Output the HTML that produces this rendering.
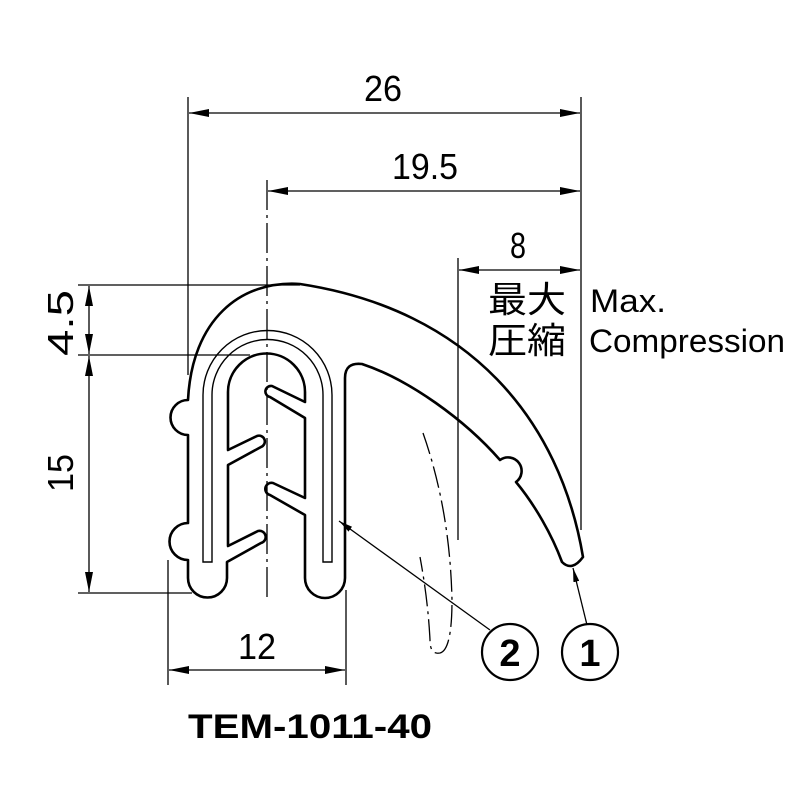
<!DOCTYPE html>
<html><head><meta charset="utf-8"><style>
html,body{margin:0;padding:0;background:#fff}
svg{display:block}
text{font-family:"Liberation Sans","Noto Sans CJK JP",sans-serif;fill:#000}
</style></head><body>
<svg width="800" height="800" viewBox="0 0 800 800" xmlns="http://www.w3.org/2000/svg">
<defs>
<marker id="a" viewBox="0 0 20 8" refX="20" refY="4" markerWidth="20" markerHeight="8" markerUnits="userSpaceOnUse" orient="auto-start-reverse">
<path d="M0,0 L20,4 L0,8 z" fill="#000"/></marker>
<marker id="s" viewBox="0 0 14 6" refX="14" refY="3" markerWidth="14" markerHeight="6" markerUnits="userSpaceOnUse" orient="auto">
<path d="M0,0 L14,3 L0,6 z" fill="#000"/></marker>
</defs>
<g stroke="#000" stroke-width="1.3" fill="none">
<line x1="188" y1="97" x2="188" y2="375"/>
<line x1="581" y1="97" x2="581" y2="530"/>
<line x1="458" y1="258" x2="458" y2="540"/>
<line x1="168" y1="560" x2="168" y2="685"/>
<line x1="346" y1="590" x2="346" y2="685"/>
<line x1="78" y1="285" x2="300" y2="285"/>
<line x1="78" y1="355" x2="250" y2="355"/>
<line x1="78" y1="593" x2="192" y2="593"/>
<line x1="267" y1="180" x2="267" y2="600" stroke-dasharray="30,5,3,5"/>
<line x1="189" y1="113" x2="580" y2="113" marker-start="url(#a)" marker-end="url(#a)"/>
<line x1="268" y1="191" x2="580" y2="191" marker-start="url(#a)" marker-end="url(#a)"/>
<line x1="459" y1="270" x2="580" y2="270" marker-start="url(#a)" marker-end="url(#a)"/>
<line x1="169" y1="670" x2="345" y2="670" marker-start="url(#a)" marker-end="url(#a)"/>
<line x1="89" y1="286" x2="89" y2="354" marker-start="url(#a)" marker-end="url(#a)"/>
<line x1="89" y1="356" x2="89" y2="592" marker-start="url(#a)" marker-end="url(#a)"/>
<line x1="490" y1="630" x2="339" y2="521" marker-end="url(#s)"/>
<line x1="587" y1="625" x2="573" y2="568" marker-end="url(#s)"/>
<circle cx="510" cy="652" r="28" stroke-width="2.2"/>
<circle cx="590" cy="652" r="28" stroke-width="2.2"/>
<path d="M423,433 Q450,510 452,600 Q452,650 440,653 Q430,655 430,640 Q428,600 420,557" stroke-dasharray="22,5,3,5"/>
</g>
<g stroke="#000" stroke-width="2.6" fill="none" stroke-linejoin="round">
<path d="M188,400 A9,9 0 0 0 188,435 L188,523 A9,9 0 0 0 188,560 L188,578 A19.5,19.5 0 0 0 227,578 L227,562 L261,543 A4,4 0 0 0 258,531 L228,546 L228,465 L261,447 A4,4 0 0 0 257,436 L228,450 L228,392 A38,38 0 0 1 305,392 L305,402 L272,386 A4,4 0 0 0 270,397 L305,418 L305,498 L273,483 A4,4 0 0 0 270,495 L305,515 L305,578 A20,20 0 0 0 345,578 L345,378 Q345,362 362,364 C410,380 465,420 500,460 A9,9 0 0 1 516,482 C535,505 552,535 562,562 Q572,572 583,557 C560,420 470,310 300,284 C240,280 192,320 188,400 Z"/>
</g>
<g stroke="#000" stroke-width="1.4" fill="none">
<path d="M203,562 L203,395 A64.5,64.5 0 0 1 332,395 L332,562 L323,562 L323,395 A55.5,55.5 0 0 0 212,395 L212,562 Z"/>
</g>
<g font-size="36">
<text x="364" y="101" textLength="38" lengthAdjust="spacingAndGlyphs">26</text>
<text x="392" y="179" textLength="66" lengthAdjust="spacingAndGlyphs">19.5</text>
<text x="510" y="258" textLength="16" lengthAdjust="spacingAndGlyphs">8</text>
<text x="238" y="659" textLength="38" lengthAdjust="spacingAndGlyphs">12</text>
<text transform="translate(73,323) rotate(-90)" x="-33" textLength="66" lengthAdjust="spacingAndGlyphs">4.5</text>
<text transform="translate(73,473) rotate(-90)" x="-19" textLength="38" lengthAdjust="spacingAndGlyphs">15</text>
<text x="590" y="312" font-size="32" textLength="76" lengthAdjust="spacingAndGlyphs">Max.</text>
<text x="589" y="352" font-size="32" textLength="196" lengthAdjust="spacingAndGlyphs">Compression</text>
<text x="488" y="312" font-size="36" textLength="78" lengthAdjust="spacingAndGlyphs">最大</text>
<text x="488" y="353" font-size="36" textLength="78" lengthAdjust="spacingAndGlyphs">圧縮</text>
<text x="510" y="666" text-anchor="middle" font-weight="bold" font-size="38">2</text>
<text x="590" y="666" text-anchor="middle" font-weight="bold" font-size="38">1</text>
<text x="188" y="738" font-weight="bold" font-size="34" textLength="244" lengthAdjust="spacingAndGlyphs">TEM-1011-40</text>
</g>
</svg>
</body></html>
